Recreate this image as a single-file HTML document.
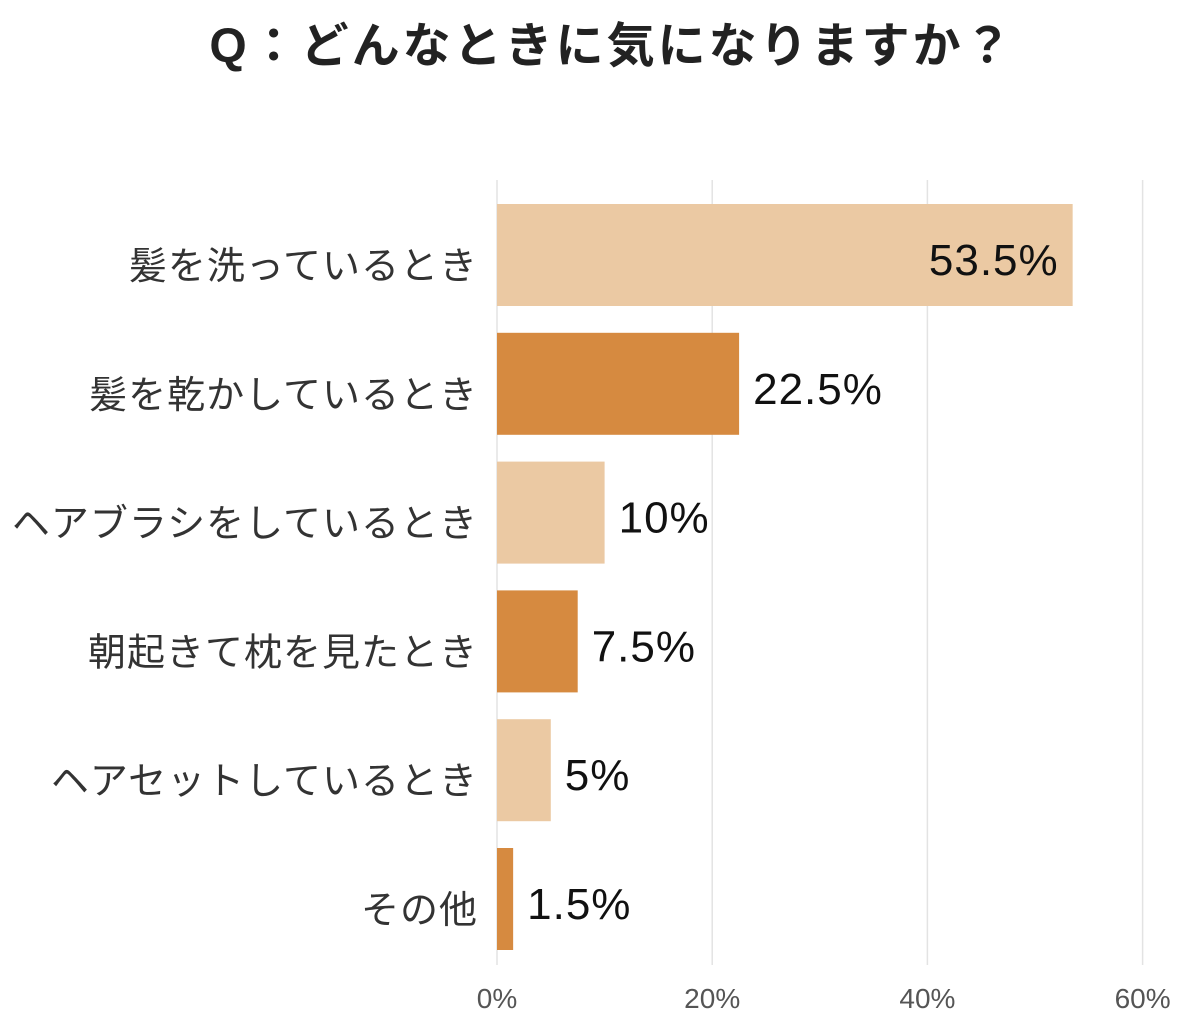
<!DOCTYPE html>
<html><head><meta charset="utf-8"><style>
html,body{margin:0;padding:0;background:#fff;}
svg{display:block;font-family:"Liberation Sans","Noto Sans CJK JP",sans-serif;}
</style></head><body>
<svg id="chart" width="1200" height="1028">
<text x="612" y="62" text-anchor="middle" font-size="48" font-weight="bold" letter-spacing="3" fill="#222">Q：どんなときに気になりますか？</text>
<g id="grid"></g><g id="bars"></g>
</svg>
<script>
const categories=["髪を洗っているとき","髪を乾かしているとき","ヘアブラシをしているとき","朝起きて枕を見たとき","ヘアセットしているとき","その他"];
const values=[53.5,22.5,10,7.5,5,1.5];
const valueLabels=["53.5%","22.5%","10%","7.5%","5%","1.5%"];
const ticks=[0,20,40,60];
const tickLabels=["0%","20%","40%","60%"];
const NS="http://www.w3.org/2000/svg";
const x=v=>497+v*10.76;
const y=i=>204+i*128.8;
const bh=102;
const grid=document.getElementById('grid'),bars=document.getElementById('bars');
function mk(tag,attrs,parent){const e=document.createElementNS(NS,tag);for(const k in attrs)e.setAttribute(k,attrs[k]);parent.appendChild(e);return e;}
ticks.forEach((t,i)=>{
  const l=mk('line',{x1:x(t),x2:x(t),y1:180,y2:965,stroke:'#e3e3e3','stroke-width':1.5},grid);
  
  
  const tx=mk('text',{x:x(t),y:1008,'text-anchor':'middle','font-size':28,fill:'#555'},grid);
  tx.textContent=tickLabels[i];
  
  
});
categories.forEach((c,i)=>{
  const r=mk('rect',{x:x(0),y:y(i),width:x(values[i])-x(0),height:bh,fill:i%2?'#d68a40':'#ebc9a3'},bars);
  
  
  const lb=mk('text',{x:478,y:y(i)+bh/2+24,'text-anchor':'end','font-size':38,'letter-spacing':1,fill:'#333'},bars);
  lb.textContent=c;
  
  
  const inside=values[i]>40;
  const vl=mk('text',{x:inside?x(values[i])-14:x(values[i])+14,y:y(i)+bh/2+20,'text-anchor':inside?'end':'start','font-size':44,'letter-spacing':1,fill:'#111'},bars);
  vl.textContent=valueLabels[i];
  
  
});
</script>
</body></html>
